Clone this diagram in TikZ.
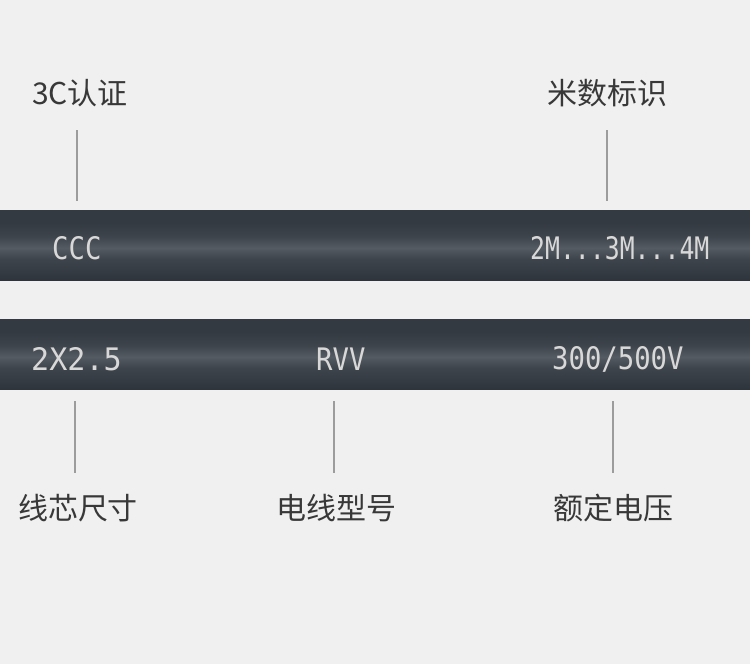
\documentclass[tikz,border=0pt]{standalone}
\usepackage{fontspec}
\setmainfont{Noto Sans CJK SC}
\newfontfamily\cablefont[FakeStretch=0.88]{DejaVu Sans Mono}
\newfontfamily\cablefontN[FakeStretch=0.80]{DejaVu Sans Mono}
\newfontfamily\cablefontW[FakeStretch=0.97]{DejaVu Sans Mono}
\definecolor{bgc}{HTML}{F0F0F0}
\definecolor{labc}{HTML}{383838}
\definecolor{linec}{HTML}{9C9C9C}
\definecolor{printc}{HTML}{D8D8D8}
\definecolor{cA}{HTML}{2E343B}
\definecolor{cB}{HTML}{353B42}
\definecolor{cC}{HTML}{555B62}
\definecolor{cD}{HTML}{3E444B}
\definecolor{cE}{HTML}{343A42}
\pgfdeclareverticalshading{cableshade}{100bp}{color(0bp)=(cA); color(25bp)=(cA); color(31bp)=(cB); color(40bp)=(cD); color(48bp)=(cC); color(56bp)=(cD); color(66bp)=(cE); color(75bp)=(cE); color(100bp)=(cE)}
\tikzset{
  label/.style={font=\fontsize{30}{32}\selectfont, text=labc, inner sep=0pt},
  print/.style={font=\cablefont\fontsize{31}{32}\selectfont, text=printc, inner sep=0pt, anchor=west},
  lead/.style={draw=linec, line width=2.2pt},
  cable/.style={shading=cableshade, draw=none}
}
\begin{document}
\begin{tikzpicture}[x=1pt,y=-1pt]
\useasboundingbox (0,0) rectangle (750,664);
\fill[bgc] (0,0) rectangle (750,664);
% cables
\shade[cable] (0,210) rectangle (750,280);
\shade[cable] (0,319) rectangle (750,389);
% prints
\node[print] (ccc) at (52,248) {CCC};
\node[print, font=\cablefontN\fontsize{31}{32}\selectfont] (meter) at (530,248) {2M...3M...4M};
\node[print, font=\cablefontW\fontsize{31}{32}\selectfont] (size) at (31,359) {2X2.5};
\node[print] (rvv) at (316,359) {RVV};
\node[print] (volt) at (552,359) {300/500V};
% labels
\node[label] (l3c) at (80,93) {3C认证};
\node[label] (lmeter) at (607,93) {米数标识};
\node[label] (lsize) at (78,508) {线芯尺寸};
\node[label] (ltype) at (336,508) {电线型号};
\node[label] (lvolt) at (613,508) {额定电压};
% leads
\coordinate (a1) at (77,130); \coordinate (a2) at (77,201);
\coordinate (b1) at (607,130); \coordinate (b2) at (607,201);
\coordinate (c1) at (75,401); \coordinate (c2) at (75,473);
\coordinate (d1) at (334,401); \coordinate (d2) at (334,473);
\coordinate (e1) at (613,401); \coordinate (e2) at (613,473);
\draw[lead] (a1) -- (a2);
\draw[lead] (b1) -- (b2);
\draw[lead] (c1) -- (c2);
\draw[lead] (d1) -- (d2);
\draw[lead] (e1) -- (e2);
\end{tikzpicture}
\end{document}
